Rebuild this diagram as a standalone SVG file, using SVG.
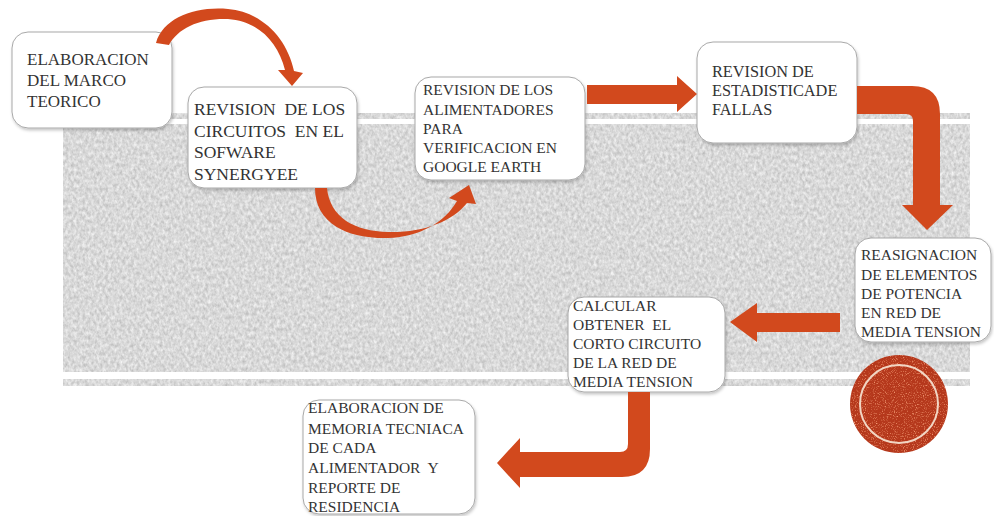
<svg xmlns="http://www.w3.org/2000/svg" width="994" height="516" viewBox="0 0 994 516">
  <defs>
    <style>
      .box { fill: #ffffff; stroke: #a8a8a8; stroke-width: 1; filter: url(#shadow); }
      .lbl { font-family: "Liberation Serif", "Times New Roman", serif; fill: #333333; white-space: pre; }
      .arrow { fill: #d2491d; }
    </style>
    <filter id="shadow" x="-10%" y="-10%" width="120%" height="130%">
      <feDropShadow dx="1" dy="2" stdDeviation="1.5" flood-color="#000" flood-opacity="0.22"/>
    </filter>
    <filter id="grain" x="0" y="0" width="1" height="1" color-interpolation-filters="sRGB">
      <feTurbulence type="fractalNoise" baseFrequency="0.35 0.25" numOctaves="3" seed="7" result="n"/>
      <feColorMatrix in="n" type="matrix" values="0.28 0 0 0 0.71  0.28 0 0 0 0.71  0.28 0 0 0 0.71  0 0 0 0 1" result="g"/>
      <feComposite in="g" in2="SourceGraphic" operator="in"/>
    </filter>
    <filter id="speckle" x="0" y="0" width="1" height="1" color-interpolation-filters="sRGB">
      <feTurbulence type="fractalNoise" baseFrequency="0.9" numOctaves="2" seed="3" result="n"/>
      <feColorMatrix in="n" type="matrix" values="0 0 0 0 0.95  0 0 0 0 0.6  0 0 0 0 0.45  0 0 0 3 -1.6" result="dots"/>
      <feComposite in="dots" in2="SourceGraphic" operator="in" result="d"/>
      <feMerge><feMergeNode in="SourceGraphic"/><feMergeNode in="d"/></feMerge>
    </filter>
  </defs>

  <rect width="994" height="516" fill="#ffffff"/>

  <!-- textured grey band behind the flow -->
  <g id="band">
    <rect x="63" y="113" width="907" height="6" fill="#dcdcdc" filter="url(#grain)"/>
    <rect x="63" y="124" width="907" height="248" fill="#d8d8d8" filter="url(#grain)"/>
    <rect x="63" y="379" width="907" height="7" fill="#dcdcdc" filter="url(#grain)"/>
  </g>

  <!-- decorative seal -->
  <g id="seal">
    <circle cx="899" cy="404" r="49" fill="#b5381c" filter="url(#speckle)"/>
    <circle cx="899" cy="404" r="39" fill="none" stroke="#f2d6c4" stroke-width="2"/>
  </g>

  <g id="n1">
    <rect class="box" x="12" y="32" width="160" height="96" rx="16"/>
    <text class="lbl" font-size="17"><tspan x="27" y="65">ELABORACION</tspan><tspan x="27" y="86">DEL MARCO</tspan><tspan x="27" y="107">TEORICO</tspan></text>
  </g>

  <g id="n2">
    <rect class="box" x="188" y="87" width="169" height="101" rx="16"/>
    <text class="lbl" font-size="17.5"><tspan x="194" y="115">REVISION  DE LOS</tspan><tspan x="194" y="137">CIRCUITOS  EN EL</tspan><tspan x="194" y="158">SOFWARE</tspan><tspan x="194" y="180">SYNERGYEE</tspan></text>
  </g>

  <g id="n3">
    <rect class="box" x="415" y="77" width="170" height="103" rx="16"/>
    <text class="lbl" font-size="15.5"><tspan x="423" y="95">REVISION DE LOS</tspan><tspan x="423" y="115">ALIMENTADORES</tspan><tspan x="423" y="134">PARA</tspan><tspan x="423" y="153">VERIFICACION EN</tspan><tspan x="423" y="172">GOOGLE EARTH</tspan></text>
  </g>

  <g id="n4">
    <rect class="box" x="697" y="42" width="160" height="101" rx="16"/>
    <text class="lbl" font-size="16.3"><tspan x="712" y="77">REVISION DE</tspan><tspan x="712" y="96">ESTADISTICADE</tspan><tspan x="712" y="115">FALLAS</tspan></text>
  </g>

  <g id="n5">
    <rect class="box" x="855" y="238" width="136" height="104" rx="16"/>
    <text class="lbl" font-size="15.5"><tspan x="861" y="260">REASIGNACION</tspan><tspan x="861" y="280">DE ELEMENTOS</tspan><tspan x="861" y="299">DE POTENCIA</tspan><tspan x="861" y="318">EN RED DE</tspan><tspan x="861" y="337">MEDIA TENSION</tspan></text>
  </g>

  <g id="n6">
    <rect class="box" x="568" y="297" width="157" height="95" rx="16"/>
    <text class="lbl" font-size="15.5"><tspan x="573" y="311">CALCULAR</tspan><tspan x="573" y="330">OBTENER  EL</tspan><tspan x="573" y="349">CORTO CIRCUITO</tspan><tspan x="573" y="368">DE LA RED DE</tspan><tspan x="573" y="387">MEDIA TENSION</tspan></text>
  </g>

  <g id="n7">
    <rect class="box" x="303" y="400" width="172" height="114" rx="16"/>
    <text class="lbl" font-size="15.5"><tspan x="308" y="413">ELABORACION DE</tspan><tspan x="308" y="434">MEMORIA TECNIACA</tspan><tspan x="308" y="453">DE CADA</tspan><tspan x="308" y="473">ALIMENTADOR  Y</tspan><tspan x="308" y="493">REPORTE DE</tspan><tspan x="308" y="512">RESIDENCIA</tspan></text>
  </g>

  <!-- connectors -->
  <g id="connectors">
    <!-- n1 -> n2 : arc over the top -->
    <path class="arrow" d="M156,43 C163,18 195,6 228,9 C262,12 287,38 294,71 L303,73 L292,86 L278,70 L285,70 C278,42 258,21 228,19 C200,18 178,28 169,45 Z"/>
    <!-- n2 -> n3 : arc underneath -->
    <path class="arrow" d="M315,188 C315,225 350,239 388,238 C420,237 445,222 457,201 L449,198 L469,185 L476,204 L467,203 C452,222 422,233 388,232 C355,231 330,218 327,188 Z"/>
    <!-- n3 -> n4 -->
    <path class="arrow" d="M587,85 L677,85 L677,76 L697,94 L677,112 L677,104 L587,104 Z"/>
    <!-- n4 -> n5 : bent right then down -->
    <path class="arrow" d="M857,86 L912,86 Q940,86 940,114 L940,205 L953,205 L927,230 L902,205 L913,205 L913,121 Q913,114 906,114 L857,114 Z"/>
    <!-- n5 -> n6 -->
    <path class="arrow" d="M840,313 L757,313 L757,303 L730,322 L757,342 L757,332 L840,332 Z"/>
    <!-- n6 -> n7 : bent down then left -->
    <path class="arrow" d="M628,392 L650,392 L650,449 Q650,477 622,477 L520,477 L520,488 L497,463 L520,438 L520,452 L620,452 Q628,452 628,444 Z"/>
  </g>
</svg>
